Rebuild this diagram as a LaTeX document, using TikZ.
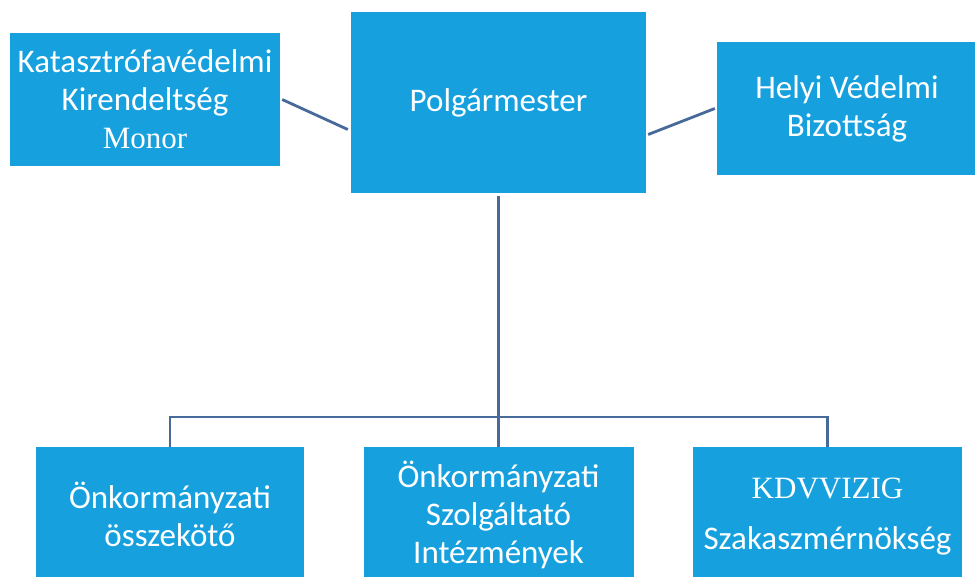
\documentclass[tikz,border=0pt]{standalone}
\usepackage{fontspec}
\setmainfont{Carlito}
\newfontfamily\seriffont{Liberation Serif}
\definecolor{boxblue}{RGB}{22,160,222}
\definecolor{linkblue}{RGB}{72,106,155}
\begin{document}
\begin{tikzpicture}[x=1pt,y=-1pt,
  orgbox/.style={fill=boxblue, draw=none, text=white, align=center, inner sep=0pt,
    font=\fontsize{33}{38}\selectfont},
  conn/.style={draw=linkblue, line width=2.8pt}]
\clip (0,0) rectangle (975,576);
\useasboundingbox (0,0) rectangle (975,576);
\fill[white] (0,0) rectangle (975,576);

\node[orgbox, minimum width=270pt, minimum height=133pt] (kat) at (145,99.5)
  {Katasztrófavédelmi\\Kirendeltség\\{\seriffont\fontsize{31}{38}\selectfont Monor}};
\node[orgbox, minimum width=295pt, minimum height=181pt] (pm) at (498.5,102.5) {Polgármester};
\node[orgbox, minimum width=260pt, minimum height=133pt] (hvb) at (847,108.5)
  {Helyi Védelmi\\Bizottság};

\node[orgbox, minimum width=268pt, minimum height=134pt] (osz) at (170,514)
  {Önkormányzati\\összekötő};
\node[orgbox, minimum width=270pt, minimum height=136pt] (szi) at (498.5,515)
  {Önkormányzati\\Szolgáltató\\Intézmények};
\node[orgbox, minimum width=269pt, minimum height=140pt] (kdv) at (827.5,517)
  {{\seriffont\fontsize{31}{38}\selectfont KDVVIZIG}\\[13pt]Szakaszmérnökség};

\coordinate (bus) at (498.5,417);

\draw[conn] ([xshift=2pt]kat.east) -- ([xshift=-3pt,yshift=-27pt]pm.west);
\draw[conn] ([xshift=2pt,yshift=-32pt]pm.east) -- ([xshift=-2pt]hvb.west);
\draw[conn] ([yshift=-3pt]pm.south) -- (szi.north);
\draw[conn] (osz.north) -- (osz.north |- bus) -- (kdv.north |- bus) -- (kdv.north);
\end{tikzpicture}
\end{document}
